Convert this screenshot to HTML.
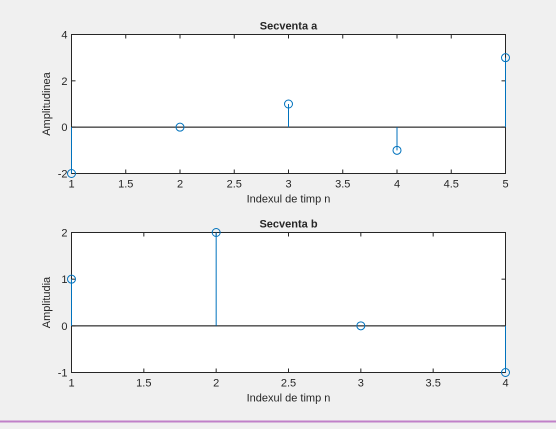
<!DOCTYPE html>
<html><head><meta charset="utf-8"><style>
body{margin:0;background:#f0f0f0;width:556px;height:424px;overflow:hidden}
svg text{font-family:"Liberation Sans",sans-serif;font-size:11px;fill:#262626}
</style></head><body>
<svg id="c" width="556" height="424">
<line x1="0" y1="421.5" x2="556" y2="421.5" stroke="#c080c8" stroke-width="2"/>
</svg>
<script>
const aN=[1,2,3,4,5];
const aV=[-2,0,1,-1,3];
const aXT=[1,1.5,2,2.5,3,3.5,4,4.5,5];
const aYT=[-2,0,2,4];
const bN=[1,2,3,4];
const bV=[1,2,0,-1];
const bXT=[1,1.5,2,2.5,3,3.5,4];
const bYT=[-1,0,1,2];
const NS='http://www.w3.org/2000/svg';
const svg=document.getElementById('c');
function mk(t,a,p){const e=document.createElementNS(NS,t);for(const k in a)e.setAttribute(k,a[k]);(p||svg).appendChild(e);return e;}
function panel(id,L,T,R,B,xs,ys,xt,yt,title,ylab,xmin,xmax,ymin,ymax){
 const g=mk('g',{});
 
 
 const X=v=>L+(v-xmin)/(xmax-xmin)*(R-L);
 const Y=v=>B-(v-ymin)/(ymax-ymin)*(B-T);
 mk('rect',{x:L,y:T,width:R-L,height:B-T,fill:'#fff'},g);
 mk('line',{x1:L,y1:Y(0),x2:R,y2:Y(0),stroke:'#000','stroke-width':1},g);
 xt.forEach(v=>{const x=X(v);
  mk('line',{x1:x,y1:B,x2:x,y2:B-4,stroke:'#262626'},g);
  mk('line',{x1:x,y1:T,x2:x,y2:T+4,stroke:'#262626'},g);
  const t=mk('text',{x:x,y:B+14,'text-anchor':'middle'},g);t.textContent=v;
  
  });
 yt.forEach(v=>{const y=Y(v);
  mk('line',{x1:L,y1:y,x2:L+4,y2:y,stroke:'#262626'},g);
  mk('line',{x1:R,y1:y,x2:R-4,y2:y,stroke:'#262626'},g);
  const t=mk('text',{x:L-4,y:y+4,'text-anchor':'end'},g);t.textContent=v;
  
  });
 mk('rect',{x:L,y:T,width:R-L,height:B-T,fill:'none',stroke:'#262626','stroke-width':1},g);
 xs.forEach((n,i)=>{const x=X(n),y=Y(ys[i]);
  const s=mk('line',{x1:x,y1:Y(0),x2:x,y2:y,stroke:'#0072bd'},g);
  
  
  const c=mk('circle',{cx:x,cy:y,r:4,fill:'none',stroke:'#0072bd'},g);
  
  });
 const ti=mk('text',{x:(L+R)/2,y:T-5,'text-anchor':'middle','font-weight':'bold'},g);ti.textContent=title;
 
 
 const xl=mk('text',{x:(L+R)/2,y:B+29,'text-anchor':'middle'},g);xl.textContent='Indexul de timp n';
 
 
 const cy=(T+B)/2;
 const yl=mk('text',{x:50,y:cy,'text-anchor':'middle',transform:`rotate(-90 50 ${cy})`},g);yl.textContent=ylab;
 
 
}
panel('top',71.5,34.5,505.5,173.5,aN,aV,aXT,aYT,'Secventa a','Amplitudinea',1,5,-2,4);
panel('bottom',71.5,232.5,505.5,372.5,bN,bV,bXT,bYT,'Secventa b','Amplitudia',1,4,-1,2);
</script>
</body></html>
